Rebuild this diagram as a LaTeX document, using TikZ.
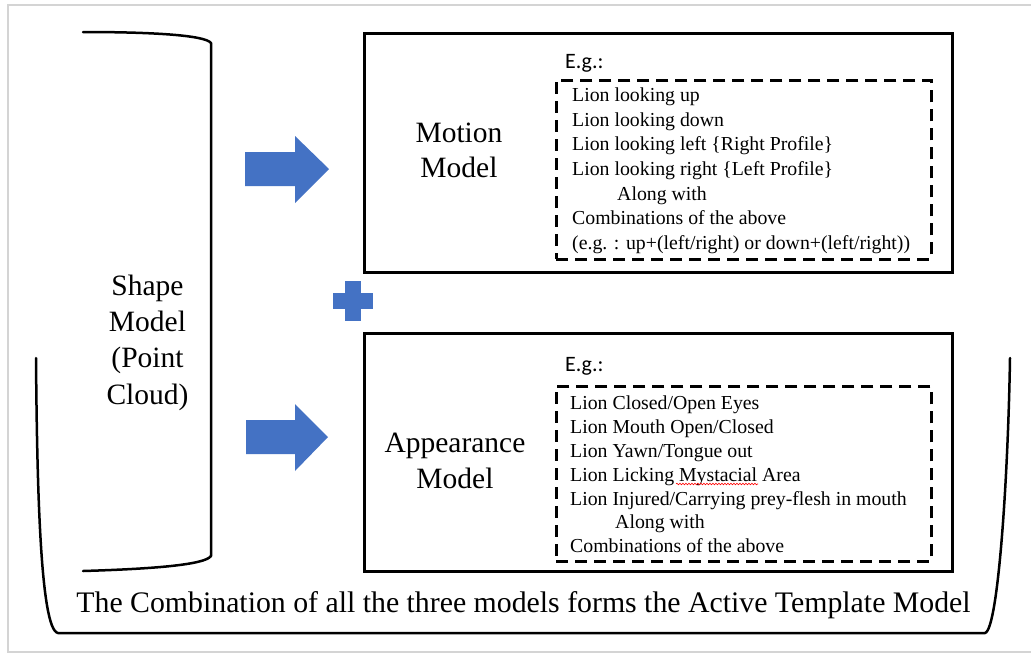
\documentclass[tikz,border=0pt]{standalone}
\usepackage{fontspec}
\setmainfont{Liberation Serif}
\newfontfamily\egfont{Carlito}
\usetikzlibrary{decorations.pathmorphing}
\definecolor{arrowblue}{HTML}{4472C4}
\definecolor{framegray}{HTML}{D4D4D4}
\begin{document}
\begin{tikzpicture}[x=1pt,y=-1pt,
  modelbox/.style={draw=black, line width=3pt, inner sep=0pt, anchor=north west},
  dashbox/.style={draw=black, line width=2.6pt, dash pattern=on 12pt off 7pt, inner sep=0pt, anchor=north west},
  bigtext/.style={font=\fontsize{29.5}{35.5}\selectfont, align=center, inner sep=0pt},
  listtext/.style={font=\fontsize{19.8}{24.7}\selectfont, align=left, inner sep=0pt, anchor=north west},
  egtext/.style={font=\egfont\fontsize{22}{26}\selectfont, inner sep=0pt, anchor=west},
  blockarrow/.style={fill=arrowblue},
  bracket/.style={draw=black, line width=2.5pt, line cap=round, line join=round},
]
\useasboundingbox (0,0) rectangle (1031,659);
\fill[white] (0,0) rectangle (1031,659);
% outer frame
\draw[framegray, line width=1.5pt] (8,5) rectangle (1040,652);

% shape model bracket
\draw[bracket] (83,32) .. controls (150,32) and (205,35) .. (211,43) -- (211,556) .. controls (205,565) and (150,569) .. (83,571);
\node[bigtext, font=\fontsize{29.5}{36.3}\selectfont] (shape) at (147.5,342.5) {Shape\\Model\\(Point\\Cloud)};

% outer U bracket
\draw[bracket] (36,358) .. controls (37,480) and (40,630) .. (58,633) -- (985,633) .. controls (998,630) and (1008,480) .. (1010,358);
\node[font=\fontsize{29.8}{35}\selectfont, inner sep=0pt] (summary) at (523.5,605) {The Combination of all the three models forms the Active Template Model};

% block arrows
\fill[blockarrow] (245,152) -- (295,152) -- (295,136) -- (329,169) -- (295,203) -- (295,186) -- (245,186) -- cycle;
\fill[blockarrow] (246,420) -- (295,420) -- (295,404) -- (328,437) -- (295,471) -- (295,454) -- (246,454) -- cycle;

% plus
\fill[arrowblue] (345,281) rectangle (361,321);
\fill[arrowblue] (333,293) rectangle (373,309);

% motion model
\node[modelbox, minimum width=588pt, minimum height=239pt] (motion) at (363,32) {};
\node[bigtext] (motiontitle) at (459,150.5) {Motion\\Model};
\node[egtext] (motioneg) at (565,63) {E.g.:};
\node[dashbox, minimum width=375pt, minimum height=179pt] (motionlist) at (555,79) {};
\node[listtext] (motionitems) at (572,87.5) {Lion looking up\\Lion looking down\\Lion looking left \{Right Profile\}\\Lion looking right \{Left Profile\}\\\hspace*{45pt}Along with\\Combinations of the above\\(e.g. : up+(left/right) or down+(left/right))};

% appearance model
\node[modelbox, minimum width=588pt, minimum height=238pt] (appearance) at (363,332) {};
\node[bigtext] (appeartitle) at (455,461) {Appearance\\Model};
\node[egtext] (appeareg) at (565,366) {E.g.:};
\node[dashbox, minimum width=375pt, minimum height=175pt] (appearlist) at (555,385) {};
\node[listtext, font=\fontsize{19.8}{23.9}\selectfont] (appearitems) at (570,395.5) {Lion Closed/Open Eyes\\Lion Mouth Open/Closed\\Lion Yawn/Tongue out\\Lion Licking Mystacial Area\\Lion Injured/Carrying prey-flesh in mouth\\\hspace*{45pt}Along with\\Combinations of the above};
\draw[red, line width=0.6pt, decorate, decoration={snake, segment length=3pt, amplitude=0.8pt}] (676,484) -- (758,484);
\end{tikzpicture}
\end{document}
